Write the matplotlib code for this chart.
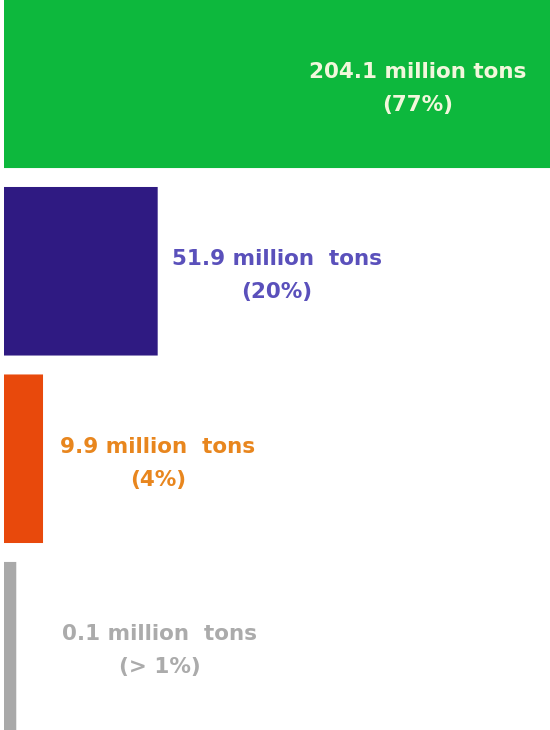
import matplotlib
matplotlib.use("Agg")
import matplotlib.pyplot as plt

# data
amounts = [204.1, 51.9, 9.9, 0.1]          # million tons
share_labels = ["(77%)", "(20%)", "(4%)", "(> 1%)"]
amount_labels = ["204.1 million tons", "51.9 million  tons",
                 "9.9 million  tons", "0.1 million  tons"]

bar_colors = ["#0db83d", "#2f1a82", "#e8490c", "#a9a9a9"]
text_colors = ["#f2f7dc", "#5a50bb", "#e8861e", "#ababab"]
# label centre, in pixels from the left edge (layout only)
label_x_px = [418, 277, 158, 160]

W, H = 550, 730
fig = plt.figure(figsize=(W / 100, H / 100), dpi=100)
ax = fig.add_axes([0, 0, 1, 1])

px_per_unit = 2.73
x0 = -10 / px_per_unit
ax.set_xlim(x0, x0 + W / px_per_unit)
ax.set_ylim(3 + 84 / 188, -84 / 188)

ypos = list(range(len(amounts)))
edge_px = 12
bars = ax.barh(ypos, amounts, height=0.835, color=bar_colors, edgecolor=bar_colors,
               linewidth=edge_px * 72 / 100, joinstyle="miter")
for b in bars:
    b.set_snap(False)

for i in ypos:
    xf = label_x_px[i] / W
    ax.annotate(amount_labels[i], xy=(xf, i), xycoords=("axes fraction", "data"),
                xytext=(0, 12), textcoords="offset pixels",
                ha="center", va="center", color=text_colors[i],
                fontsize=15.5, fontweight="bold", family="DejaVu Sans")
    ax.annotate(share_labels[i], xy=(xf, i), xycoords=("axes fraction", "data"),
                xytext=(0, -21), textcoords="offset pixels",
                ha="center", va="center", color=text_colors[i],
                fontsize=15.5, fontweight="bold", family="DejaVu Sans")

ax.axis("off")
fig.savefig("out.png", dpi=100)
